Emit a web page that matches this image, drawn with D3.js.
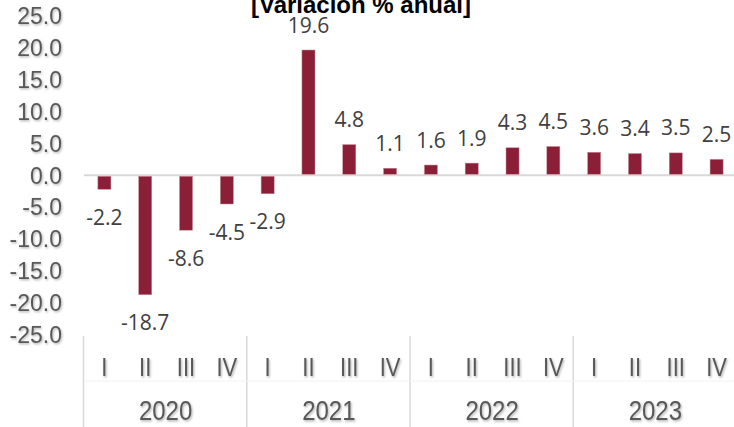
<!DOCTYPE html>
<html>
<head>
<meta charset="utf-8">
<script src="https://cdn.jsdelivr.net/npm/d3@7"></script>
<style>
  body { margin: 0; background: #fff; }
  svg { display: block; }
</style>
</head>
<body>
<div id="chart"></div>
<script>
// Chart data
const years = ["2020", "2021", "2022", "2023"];
const quarters = ["I", "II", "III", "IV"];
const values = [-2.2, -18.7, -8.6, -4.5, -2.9, 19.6, 4.8, 1.1, 1.6, 1.9, 4.3, 4.5, 3.6, 3.4, 3.5, 2.5];
const yTicks = [25, 20, 15, 10, 5, 0, -5, -10, -15, -20, -25];
const title = "[Variación % anual]";

// build flat category list: year + quarter
const cats = [];
years.forEach(function (y) {
  quarters.forEach(function (q) { cats.push(y + "-" + q); });
});

// plain hyphen like the original, not d3's unicode minus
function fmt(v) { return v.toFixed(1); }

var width = 734;
var height = 427;

var svg = d3.select("#chart").append("svg")
  .attr("width", width)
  .attr("height", height);

// soft shadow used for axis text
var defs = svg.append("defs");
defs.append("filter")
  .attr("id", "shadow")
  .attr("x", "-10%").attr("y", "-10%")
  .attr("width", "130%").attr("height", "140%")
  .append("feDropShadow")
  .attr("dx", 1).attr("dy", 1.2)
  .attr("stdDeviation", 0.8)
  .attr("flood-color", "#8c8c8c")
  .attr("flood-opacity", 0.7);

var x = d3.scaleBand()
  .domain(cats)
  .range([84, 737])
  .paddingInner(0.68)
  .paddingOuter(0.34);

var y = d3.scaleLinear()
  .domain([-25, 25])
  .range([335, 15.5]);

// y axis labels
svg.append("g")
  .selectAll("text")
  .data(yTicks)
  .enter().append("text")
  .attr("x", 62)
  .attr("y", function (d) { return y(d); })
  .attr("dy", "0.36em")
  .attr("text-anchor", "end")
  .attr("font-family", "Liberation Sans, Arial, sans-serif")
  .attr("font-size", 23)
  .attr("fill", "#595959")
  .attr("filter", "url(#shadow)")
  .text(fmt);

// zero line
svg.append("line")
  .attr("x1", 84).attr("x2", width)
  .attr("y1", y(0)).attr("y2", y(0))
  .attr("stroke", "#d9d9d9")
  .attr("stroke-width", 2);

// bars
svg.append("g")
  .selectAll("rect")
  .data(values)
  .enter().append("rect")
  .attr("x", function (d, i) { return x(cats[i]); })
  .attr("width", x.bandwidth())
  .attr("y", function (d) { return d >= 0 ? y(d) : y(0) + 1; })
  .attr("height", function (d) { return Math.abs(y(d) - y(0)) - 1; })
  .attr("fill", "#8a1f37")
  .attr("stroke", "#c98f9c")
  .attr("stroke-width", 0.5);

// data labels
svg.append("g")
  .selectAll("text")
  .data(values)
  .enter().append("text")
  .attr("x", function (d, i) { return x(cats[i]) + x.bandwidth() / 2; })
  .attr("y", function (d) { return d >= 0 ? y(d) - 25 : y(d) + 28; })
  .attr("dy", "0.36em")
  .attr("text-anchor", "middle")
  .attr("font-family", "Open Sans, Noto Sans, sans-serif")
  .attr("font-size", 21)
  .attr("fill", "#404040")
  .text(fmt);

// category axis: separators
var sepX = years.map(function (yr) { return x(yr + "-I") - x.step() * x.paddingInner() / 2 - 0.5; });
sepX.push(x.range()[1]);
svg.append("g")
  .selectAll("line")
  .data(sepX)
  .enter().append("line")
  .attr("x1", function (d) { return d; })
  .attr("x2", function (d) { return d; })
  .attr("y1", 336).attr("y2", height)
  .attr("stroke", "#d9d9d9")
  .attr("stroke-width", 1.5);

svg.append("line")
  .attr("x1", 84).attr("x2", width)
  .attr("y1", 381).attr("y2", 381)
  .attr("stroke", "#f2f2f2")
  .attr("stroke-width", 1);

// quarter labels
svg.append("g")
  .selectAll("text")
  .data(cats)
  .enter().append("text")
  .attr("transform", function (d) {
    return "translate(" + (x(d) + x.bandwidth() / 2) + ",366) scale(1,1.2)";
  })
  .attr("dy", "0.36em")
  .attr("text-anchor", "middle")
  .attr("font-family", "Liberation Sans, Arial, sans-serif")
  .attr("font-size", 22)
  .attr("fill", "#595959")
  .attr("filter", "url(#shadow)")
  .text(function (d) { return d.split("-")[1]; });

// year labels
svg.append("g")
  .selectAll("text")
  .data(years)
  .enter().append("text")
  .attr("transform", function (d) {
    var cx = (x(d + "-I") + x(d + "-IV") + x.bandwidth()) / 2;
    return "translate(" + cx + ",410) scale(1,1.17)";
  })
  .attr("dy", "0.36em")
  .attr("text-anchor", "middle")
  .attr("font-family", "Liberation Sans, Arial, sans-serif")
  .attr("font-size", 24)
  .attr("fill", "#595959")
  .attr("filter", "url(#shadow)")
  .text(function (d) { return d; });

// title (clipped at the top like the reference)
svg.append("text")
  .attr("x", 361)
  .attr("y", 13)
  .attr("text-anchor", "middle")
  .attr("font-family", "Liberation Sans, Arial, sans-serif")
  .attr("font-weight", "bold")
  .attr("font-size", 24)
  .attr("fill", "#000")
  .text(title);
</script>
</body>
</html>
